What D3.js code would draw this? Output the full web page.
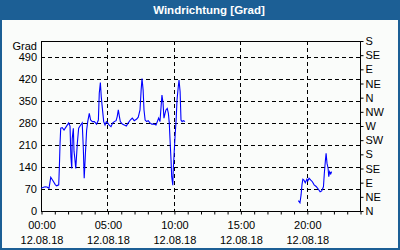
<!DOCTYPE html>
<html>
<head>
<meta charset="utf-8">
<script src="https://cdn.jsdelivr.net/npm/d3@7"></script>
<style>
  body { margin: 0; }
  svg { display: block; font-family: "Liberation Sans", Arial, sans-serif; }
</style>
</head>
<body>
<svg id="chart" width="400" height="250"></svg>
<script>
// Wind direction samples, minutes since 00:00 on 12.08.18 (null = gap in data)
const minutes = [1, 9, 18, 27, 36, 44, 54, 65, 71, 80, 83, 86, 89, 96, 104, 114, 125, 131, 135, 139,
    141, 146, 149, 152, 157, 164, 170, 179, 186, 191, 195, 200, 206, 211, 218, 224, 232, 241, 251, 259,
    263, 268, 272, 277, 283, 289, 295, 301, 308, 316, 324, 331, 339, 344, 349, 354, 358, 367, 376, 385,
    394, 403, 412, 421, 432, 439, 447, 452, 456, 461, 465, 470, 477, 484, 492, 500, 510, 519, 525, 531,
    537, 542, 546, 551, 555, 560, 564, 570, 575, 579, 584, 587, 590, 595, 597, 601, 605, 610, 614, 619,
    623, 628, 632, 637, 642, 650,
    700,
    1162, 1169, 1174, 1178, 1182, 1187, 1193, 1200, 1204, 1210, 1218, 1225, 1233, 1242, 1252, 1260, 1267,
    1275, 1279, 1284, 1287, 1291, 1296, 1299, 1303, 1308, 1312];
const values = [72, 75, 77, 76, 72, 107, 96, 83, 80, 83, 141, 215, 263, 265, 257, 268, 280, 270, 172, 135,
    230, 263, 190, 172, 135, 215, 263, 273, 280, 200, 104, 175, 257, 284, 310, 289, 284, 284, 276, 289,
    374, 408, 363, 326, 284, 273, 284, 280, 273, 268, 280, 284, 287, 300, 321, 300, 284, 276, 273, 270,
    280, 289, 295, 287, 292, 298, 321, 384, 421, 384, 321, 289, 284, 287, 280, 276, 276, 273, 284, 295,
    284, 331, 368, 342, 295, 310, 321, 326, 310, 280, 204, 162, 109, 82, 130, 183, 236, 289, 353, 390,
    416, 379, 289, 284, 287, 284,
    null,
    33, 26, 51, 83, 101, 98, 90, 101, 95, 104, 98, 93, 83, 78, 69, 61, 64,
    77, 120, 162, 183, 152, 135, 109, 125, 118, 125];

const gradTicks = [0, 70, 140, 210, 280, 350, 420, 490];
const compassLabels = ["N", "NE", "E", "SE", "S", "SW", "W", "NW", "N", "NE", "E", "SE", "S"];
const hourTicks = [0, 5, 10, 15, 20];
const dateLabel = "12.08.18";

const svg = d3.select("#chart");
const W = 400, H = 250;
const plot = { left: 41, right: 360, top: 41, bottom: 211 };

// Frame and title bar
svg.append("rect").attr("width", W).attr("height", H).attr("fill", "#1c5f95");
svg.append("rect").attr("x", 2).attr("y", 20).attr("width", W - 4).attr("height", H - 22)
    .attr("fill", "#fafcfa");
svg.append("text")
    .attr("x", 209).attr("y", 14)
    .attr("text-anchor", "middle")
    .attr("fill", "white")
    .style("font-size", "11.5px")
    .style("font-weight", "bold")
    .text("Windrichtung [Grad]");

const x = d3.scaleLinear().domain([0, 24 * 60]).range([plot.left, plot.right]);
const y = d3.scaleLinear().domain([0, 540]).range([plot.bottom, plot.top]);

// Dashed grid
svg.append("g").selectAll("line")
    .data(gradTicks.slice(1))
    .join("line")
    .attr("x1", plot.left).attr("x2", plot.right)
    .attr("y1", d => Math.round(y(d)) + 0.5).attr("y2", d => Math.round(y(d)) + 0.5)
    .attr("stroke", "black").attr("stroke-dasharray", "4,3");
svg.append("g").selectAll("line")
    .data(hourTicks.slice(1))
    .join("line")
    .attr("x1", d => Math.round(x(d * 60)) + 0.5).attr("x2", d => Math.round(x(d * 60)) + 0.5)
    .attr("y1", plot.top).attr("y2", plot.bottom)
    .attr("stroke", "black").attr("stroke-dasharray", "4,3");

// Plot box
svg.append("rect")
    .attr("x", plot.left + 0.5).attr("y", plot.top + 0.5)
    .attr("width", plot.right - plot.left).attr("height", plot.bottom - plot.top)
    .attr("fill", "none").attr("stroke", "black");

// Bottom axis: hour ticks, labels every 5 hours
const xAxis = svg.append("g")
    .attr("transform", `translate(0,${plot.bottom + 0.5})`)
    .call(d3.axisBottom(x).tickValues(d3.range(0, 25).map(h => h * 60)).tickSize(3).tickFormat(""));
xAxis.select(".domain").remove();
xAxis.selectAll(".tick line").attr("transform", "translate(0.5,0)");
const xLab = svg.append("g").selectAll("text")
    .data(hourTicks)
    .join("text")
    .attr("x", d => x(d * 60) + 1)
    .attr("text-anchor", "middle")
    .style("font-size", "11px");
xLab.append("tspan").attr("x", d => x(d * 60) + 1).attr("y", 229)
    .text(d => d3.format("02")(d) + ":00");
xLab.append("tspan").attr("x", d => x(d * 60) + 1).attr("y", 244)
    .text(dateLabel);

// Left axis (degrees)
svg.append("g").selectAll("text")
    .data(gradTicks)
    .join("text")
    .attr("x", 37).attr("y", d => y(d))
    .attr("dy", "0.35em")
    .attr("text-anchor", "end")
    .style("font-size", "11px")
    .text(d => d);
svg.append("text")
    .attr("x", 37).attr("y", 46).attr("dy", "0.35em")
    .attr("text-anchor", "end")
    .style("font-size", "11px")
    .text("Grad");

// Right axis (compass)
const yRight = svg.append("g")
    .attr("transform", `translate(${plot.right + 0.5},0)`)
    .call(d3.axisRight(y).tickValues(d3.range(0, 541, 45)).tickSize(3).tickPadding(2)
        .tickFormat((d, i) => compassLabels[i]));
yRight.attr("font-family", null).attr("font-size", null);
yRight.select(".domain").remove();
yRight.selectAll("text").style("font-size", "11px");

// Data line
const pts = minutes.map((m, i) => ({ m, v: values[i] }));
svg.append("path")
    .datum(pts)
    .attr("fill", "none")
    .attr("stroke", "#0000ff")
    .attr("stroke-width", 1.1)
    .attr("d", d3.line().defined(d => d.v != null).x(d => x(d.m)).y(d => y(d.v)));
</script>
</body>
</html>
